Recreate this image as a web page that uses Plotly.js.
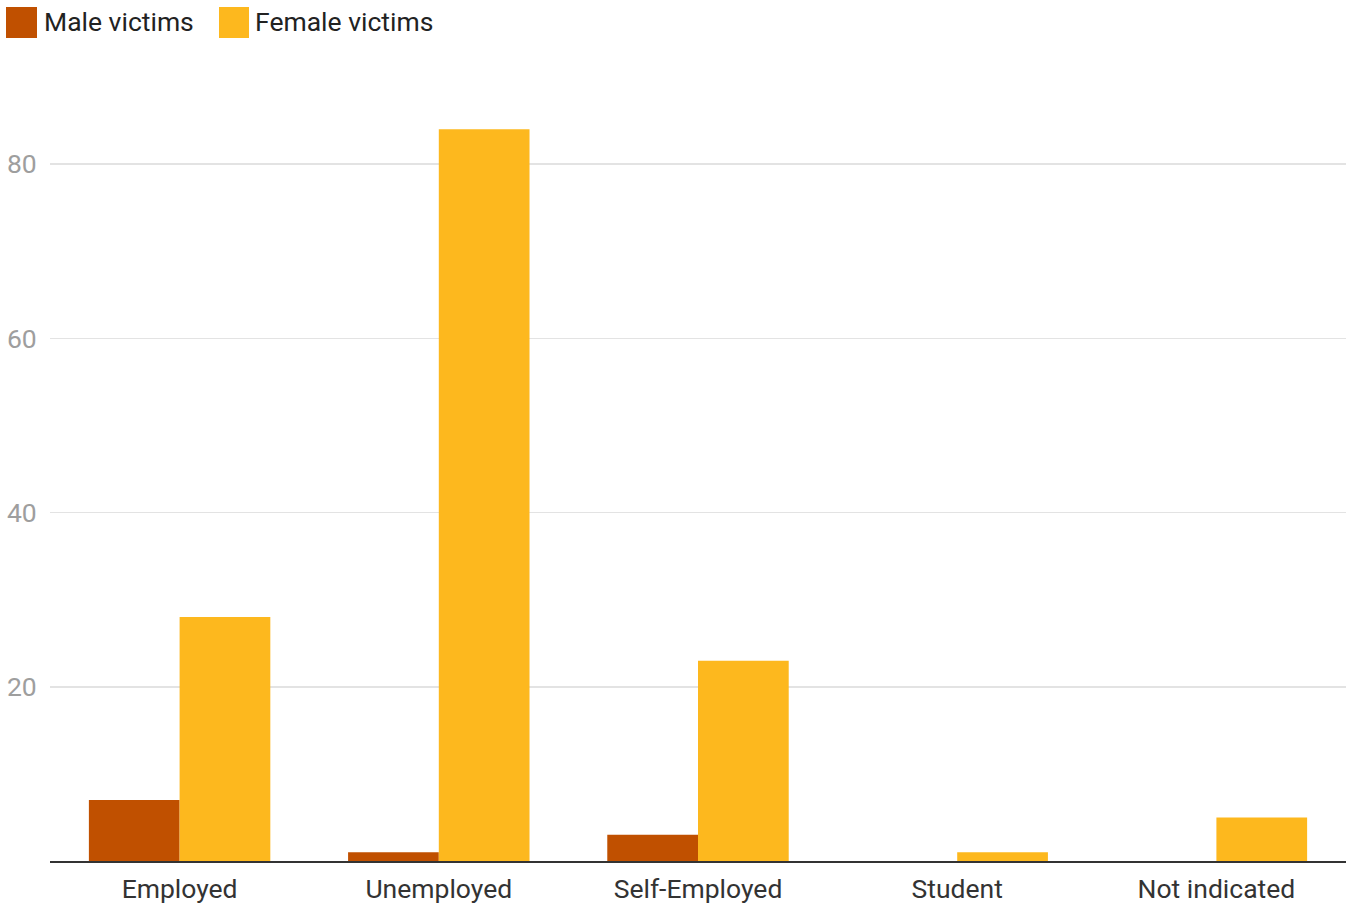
<!DOCTYPE html>
<html>
<head>
<meta charset="utf-8">
<script src="https://cdn.plot.ly/plotly-3.0.1.min.js"></script>
<style>html,body{margin:0;padding:0;background:#fff;}#chart{width:1351px;height:906px;}</style>
</head>
<body>
<div id="chart"></div>
<script>
const categories = ["Employed", "Unemployed", "Self-Employed", "Student", "Not indicated"];
const maleVictims = [7, 1, 3, 0, 0];
const femaleVictims = [28, 84, 23, 1, 5];
const seriesNames = ["Male victims", "Female victims"];
const yTickVals = [20, 40, 60, 80];

const maleColor = "#C05000";
const femaleColor = "#FDB81E";

const traces = [
  {type: "bar", name: seriesNames[0], x: categories, y: maleVictims, marker: {color: maleColor}, showlegend: false, hoverinfo: "x+y"},
  {type: "bar", name: seriesNames[1], x: categories, y: femaleVictims, marker: {color: femaleColor}, showlegend: false, hoverinfo: "x+y"}
];

const L = 50, R = 5, T = 77, B = 45, W = 1351, H = 906;
const pw = W - L - R, ph = H - T - B;
const px = v => (v - L) / pw;
const py = v => (H - B - v) / ph;

const layout = {
  width: W, height: H,
  margin: {l: L, r: R, t: T, b: B, pad: 0},
  paper_bgcolor: "#fff", plot_bgcolor: "#fff",
  font: {family: "Roboto, 'Noto Sans', sans-serif", size: 26, color: "#333"},
  barmode: "group", bargap: 0.3, bargroupgap: 0,
  xaxis: {
    showline: true, linecolor: "#333", linewidth: 2,
    showgrid: false, zeroline: false,
    ticks: "outside", ticklen: 3, tickcolor: "rgba(0,0,0,0)",
    tickfont: {size: 26.5, color: "#333"},
    fixedrange: true
  },
  yaxis: {
    range: [0, 90], tickvals: yTickVals, ticktext: yTickVals.map(String),
    showgrid: true, gridcolor: "#e3e3e3", gridwidth: 1.5,
    zeroline: false, showline: false,
    ticks: "outside", ticklen: 7, tickcolor: "rgba(0,0,0,0)",
    tickfont: {size: 26.5, color: "#9e9e9e"},
    fixedrange: true
  },
  showlegend: false,
  shapes: [
    {type: "rect", xref: "paper", yref: "paper", x0: px(6), x1: px(37), y0: py(38), y1: py(7), fillcolor: maleColor, line: {width: 0}},
    {type: "rect", xref: "paper", yref: "paper", x0: px(219), x1: px(249), y0: py(38), y1: py(7), fillcolor: femaleColor, line: {width: 0}}
  ],
  annotations: [
    {xref: "paper", yref: "paper", x: px(42), y: py(22), xanchor: "left", yanchor: "middle", text: seriesNames[0], showarrow: false, font: {size: 26.5, color: "#222"}},
    {xref: "paper", yref: "paper", x: px(253), y: py(22), xanchor: "left", yanchor: "middle", text: seriesNames[1], showarrow: false, font: {size: 26.5, color: "#222"}}
  ]
};

Plotly.newPlot("chart", traces, layout, {displayModeBar: false, staticPlot: true});
</script>
</body>
</html>
